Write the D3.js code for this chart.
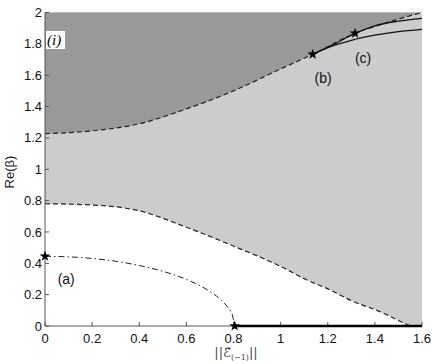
<!DOCTYPE html>
<html><head><meta charset="utf-8">
<script src="https://cdn.jsdelivr.net/npm/d3@7"></script>
<style>body{margin:0;background:#fff}svg{display:block}</style>
</head><body>
<svg id="c" width="436" height="364"></svg>
<script>
const xTicks = [0,0.2,0.4,0.6,0.8,1,1.2,1.4,1.6];
const yTicks = [0,0.2,0.4,0.6,0.8,1,1.2,1.4,1.6,1.8,2];
const upperX = [0,0.2,0.4,0.6,0.8,1.0,1.136,1.316,1.45,1.6];
const upperY = [1.227,1.245,1.29,1.385,1.50,1.64,1.733,1.867,1.935,2.0];
const lowerX = [0,0.2,0.4,0.6,0.8,1.0,1.11,1.2,1.3,1.435,1.5,1.55,1.6];
const lowerY = [0.78,0.772,0.735,0.63,0.51,0.38,0.295,0.237,0.162,0.083,0.035,0,0];
const dashDotX = [0,0.1,0.2,0.3,0.4,0.5,0.6,0.7,0.75,0.78,0.795,0.805];
const dashDotY = [0.445,0.441,0.431,0.413,0.386,0.349,0.297,0.22,0.162,0.11,0.07,0];
const branchBX = [1.136,1.2,1.3,1.4,1.5,1.6];
const branchBY = [1.733,1.775,1.822,1.855,1.878,1.893];
const branchCX = [1.136,1.23,1.316,1.4,1.5,1.6];
const branchCY = [1.733,1.800,1.867,1.915,1.945,1.963];
const axisLineX = [0.805,1.6];
const axisLineY = [0,0];
const starX = [0,0.805,1.136,1.316];
const starY = [0.445,0,1.733,1.867];
const labels = ["(a)","(b)","(c)"];
const labelX = [0.09,1.18,1.35];
const labelY = [0.30,1.58,1.71];

const L=45,R=422,T=12.5,B=326;
const x=d3.scaleLinear().domain([0,1.6]).range([L,R]);
const y=d3.scaleLinear().domain([0,2]).range([B,T]);
const svg=d3.select("#c");
const zip=(a,b)=>a.map((v,i)=>[v,b[i]]);
const curve=d3.curveMonotoneX;
const up=zip(upperX,upperY), lo=zip(lowerX,lowerY);

svg.append("rect").attr("x",L).attr("y",T).attr("width",R-L).attr("height",B-T).attr("fill","#cccccc");
svg.append("path").datum(lo).attr("fill","#ffffff")
 .attr("d",d3.area().x(d=>x(d[0])).y0(y(0)).y1(d=>y(d[1])).curve(curve));
svg.append("path").datum(up).attr("fill","#999999")
 .attr("d",d3.area().x(d=>x(d[0])).y0(y(2)).y1(d=>y(d[1])).curve(curve));

const line=d3.line().x(d=>x(d[0])).y(d=>y(d[1])).curve(curve);
svg.append("path").datum(up).attr("fill","none").attr("stroke","#222").attr("stroke-width",1.2).attr("stroke-dasharray","5,3").attr("d",line);
svg.append("path").datum(lo.filter(d=>d[0]<=1.55)).attr("fill","none").attr("stroke","#222").attr("stroke-width",1.2).attr("stroke-dasharray","5,3").attr("d",line);
svg.append("path").datum(zip(dashDotX,dashDotY)).attr("fill","none").attr("stroke","#222").attr("stroke-width",1).attr("stroke-dasharray","6,3,1.5,3").attr("d",line);
svg.append("path").datum(zip(branchBX,branchBY)).attr("fill","none").attr("stroke","#111").attr("stroke-width",1.3).attr("d",line);
svg.append("path").datum(zip(branchCX,branchCY)).attr("fill","none").attr("stroke","#111").attr("stroke-width",1.3).attr("d",line);

const ax=svg.append("g").attr("stroke","#555").attr("stroke-width",1);
ax.append("line").attr("x1",L).attr("x2",L).attr("y1",T).attr("y2",B);
ax.append("line").attr("x1",L).attr("x2",R).attr("y1",B).attr("y2",B);
xTicks.forEach(t=>{ax.append("line").attr("x1",x(t)).attr("x2",x(t)).attr("y1",B).attr("y2",B-4);});
yTicks.forEach(t=>{ax.append("line").attr("x1",L).attr("x2",L+4).attr("y1",y(t)).attr("y2",y(t));});

svg.append("path").datum(zip(axisLineX,axisLineY)).attr("fill","none").attr("stroke","#000").attr("stroke-width",2.5).attr("d",d3.line().x(d=>x(d[0])).y(d=>y(d[1])));

const tf="Liberation Sans, Arial, sans-serif";
svg.selectAll(".xt").data(xTicks).enter().append("text").attr("x",d=>x(d)).attr("y",B+17)
 .attr("text-anchor","middle").attr("font-family",tf).attr("font-size",13).attr("fill","#111").text(d=>d);
svg.selectAll(".yt").data(yTicks).enter().append("text").attr("x",L-3).attr("y",d=>y(d)).attr("dy","0.35em")
 .attr("text-anchor","end").attr("font-family",tf).attr("font-size",13).attr("fill","#111").text(d=>d);

svg.selectAll(".st").data(zip(starX,starY)).enter().append("path")
 .attr("transform",d=>`translate(${x(d[0])},${y(d[1])})`)
 .attr("d",d3.symbol(d3.symbolStar,36)).attr("fill","#000");

svg.selectAll(".lb").data(labels).enter().append("text")
 .attr("x",(d,i)=>x(labelX[i])).attr("y",(d,i)=>y(labelY[i])).attr("dy","0.35em")
 .attr("text-anchor","middle").attr("font-family",tf).attr("font-size",14).attr("fill","#111").text(d=>d);

svg.append("rect").attr("x",L+1).attr("y",31).attr("width",19).attr("height",18).attr("fill","#fff");
svg.append("text").attr("x",L+2).attr("y",45).attr("font-family","Liberation Serif, serif").attr("font-style","italic").attr("font-size",15).attr("fill","#000").text("(i)");

svg.append("text").attr("transform","translate(14,172) rotate(-90)").attr("text-anchor","middle")
 .attr("font-family",tf).attr("font-size",13).attr("fill","#222").text("Re(β)");
const xl=svg.append("text").attr("x",236).attr("y",357).attr("text-anchor","middle")
 .attr("font-family","DejaVu Serif, DejaVu Sans, serif").attr("font-size",13).attr("fill","#444");
xl.append("tspan").text("||");
xl.append("tspan").attr("font-family","DejaVu Sans, Noto Sans, sans-serif").attr("font-style","italic").text("ℰ\u20D7");
xl.append("tspan").attr("font-size",8).attr("dy",3).text("(−1)");
xl.append("tspan").attr("dy",-3).text("||");
</script>
</body></html>
